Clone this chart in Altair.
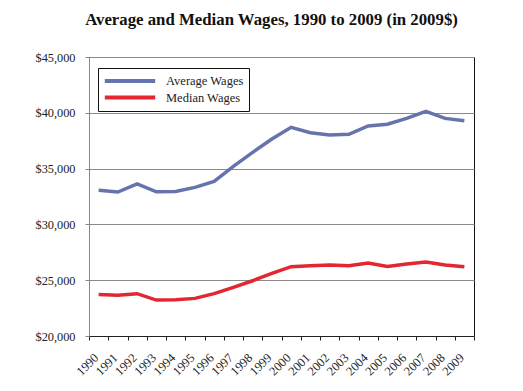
import altair as alt
import pandas as pd

years = [str(y) for y in range(1990, 2010)]
average_wages = [33050, 32900, 33620, 32920, 32950, 33320, 33850, 35200, 36450, 37650,
                 38700, 38220, 38010, 38070, 38820, 38970, 39500, 40130, 39500, 39290]
median_wages = [23720, 23650, 23790, 23220, 23240, 23370, 23800, 24360, 24950, 25620,
                26210, 26290, 26360, 26300, 26540, 26230, 26450, 26620, 26360, 26200]
series_names = ["Average Wages", "Median Wages"]
series_colors = ["#6674AE", "#E3262F"]

df = pd.DataFrame({
    "Year": years * 2,
    "Wage": average_wages + median_wages,
    "Series": [series_names[0]] * len(years) + [series_names[1]] * len(years),
})

FONT = "Liberation Serif"

chart = alt.Chart(df).mark_line(strokeWidth=3.5).encode(
    x=alt.X("Year:O", sort=years, title=None,
            scale=alt.Scale(paddingInner=0, paddingOuter=0),
            axis=alt.Axis(labelAngle=-45, labelAlign="right", labelBaseline="top",
                          tickBand="extent", tickSize=4, tickColor="#222",
                          domainColor="#222", labelFont=FONT, labelFontSize=12.5,
                          labelColor="#222", labelPadding=11, labelOffset=-7,
                          grid=False)),
    y=alt.Y("Wage:Q", title=None,
            scale=alt.Scale(domain=[20000, 45000], nice=False),
            axis=alt.Axis(values=list(range(20000, 45001, 5000)), format="$,.0f",
                          labelFont=FONT, labelFontSize=12.3, labelColor="#222",
                          tickSize=4, tickColor="#888", domainColor="#888",
                          gridColor="#8a8a8a", gridWidth=1, labelPadding=10)),
    color=alt.Color("Series:N",
                    scale=alt.Scale(domain=series_names, range=series_colors),
                    legend=alt.Legend(title=None, orient="none", legendX=9, legendY=11,
                                      strokeColor="#111", padding=5,
                                      symbolType="M-4.2,0L4.2,0", symbolSize=144,
                                      symbolStrokeWidth=4, symbolOffset=19,
                                      labelFont=FONT, labelFontSize=12.5,
                                      labelColor="#222", rowPadding=0.5,
                                      labelOffset=28)),
).properties(
    width=385, height=279,
    padding={"left": 81, "top": 49, "right": 10, "bottom": 47},
    autosize=alt.AutoSizeParams(type="none"),
    title=alt.TitleParams("Average and Median Wages, 1990 to 2009 (in 2009$)",
                          font=FONT, fontSize=16.8, fontWeight="bold", color="#111",
                          anchor="middle", dx=-10, offset=22),
).configure_view(stroke="#111", strokeWidth=1)

chart.save("out.html", embed_options={"renderer": "svg", "actions": False})
